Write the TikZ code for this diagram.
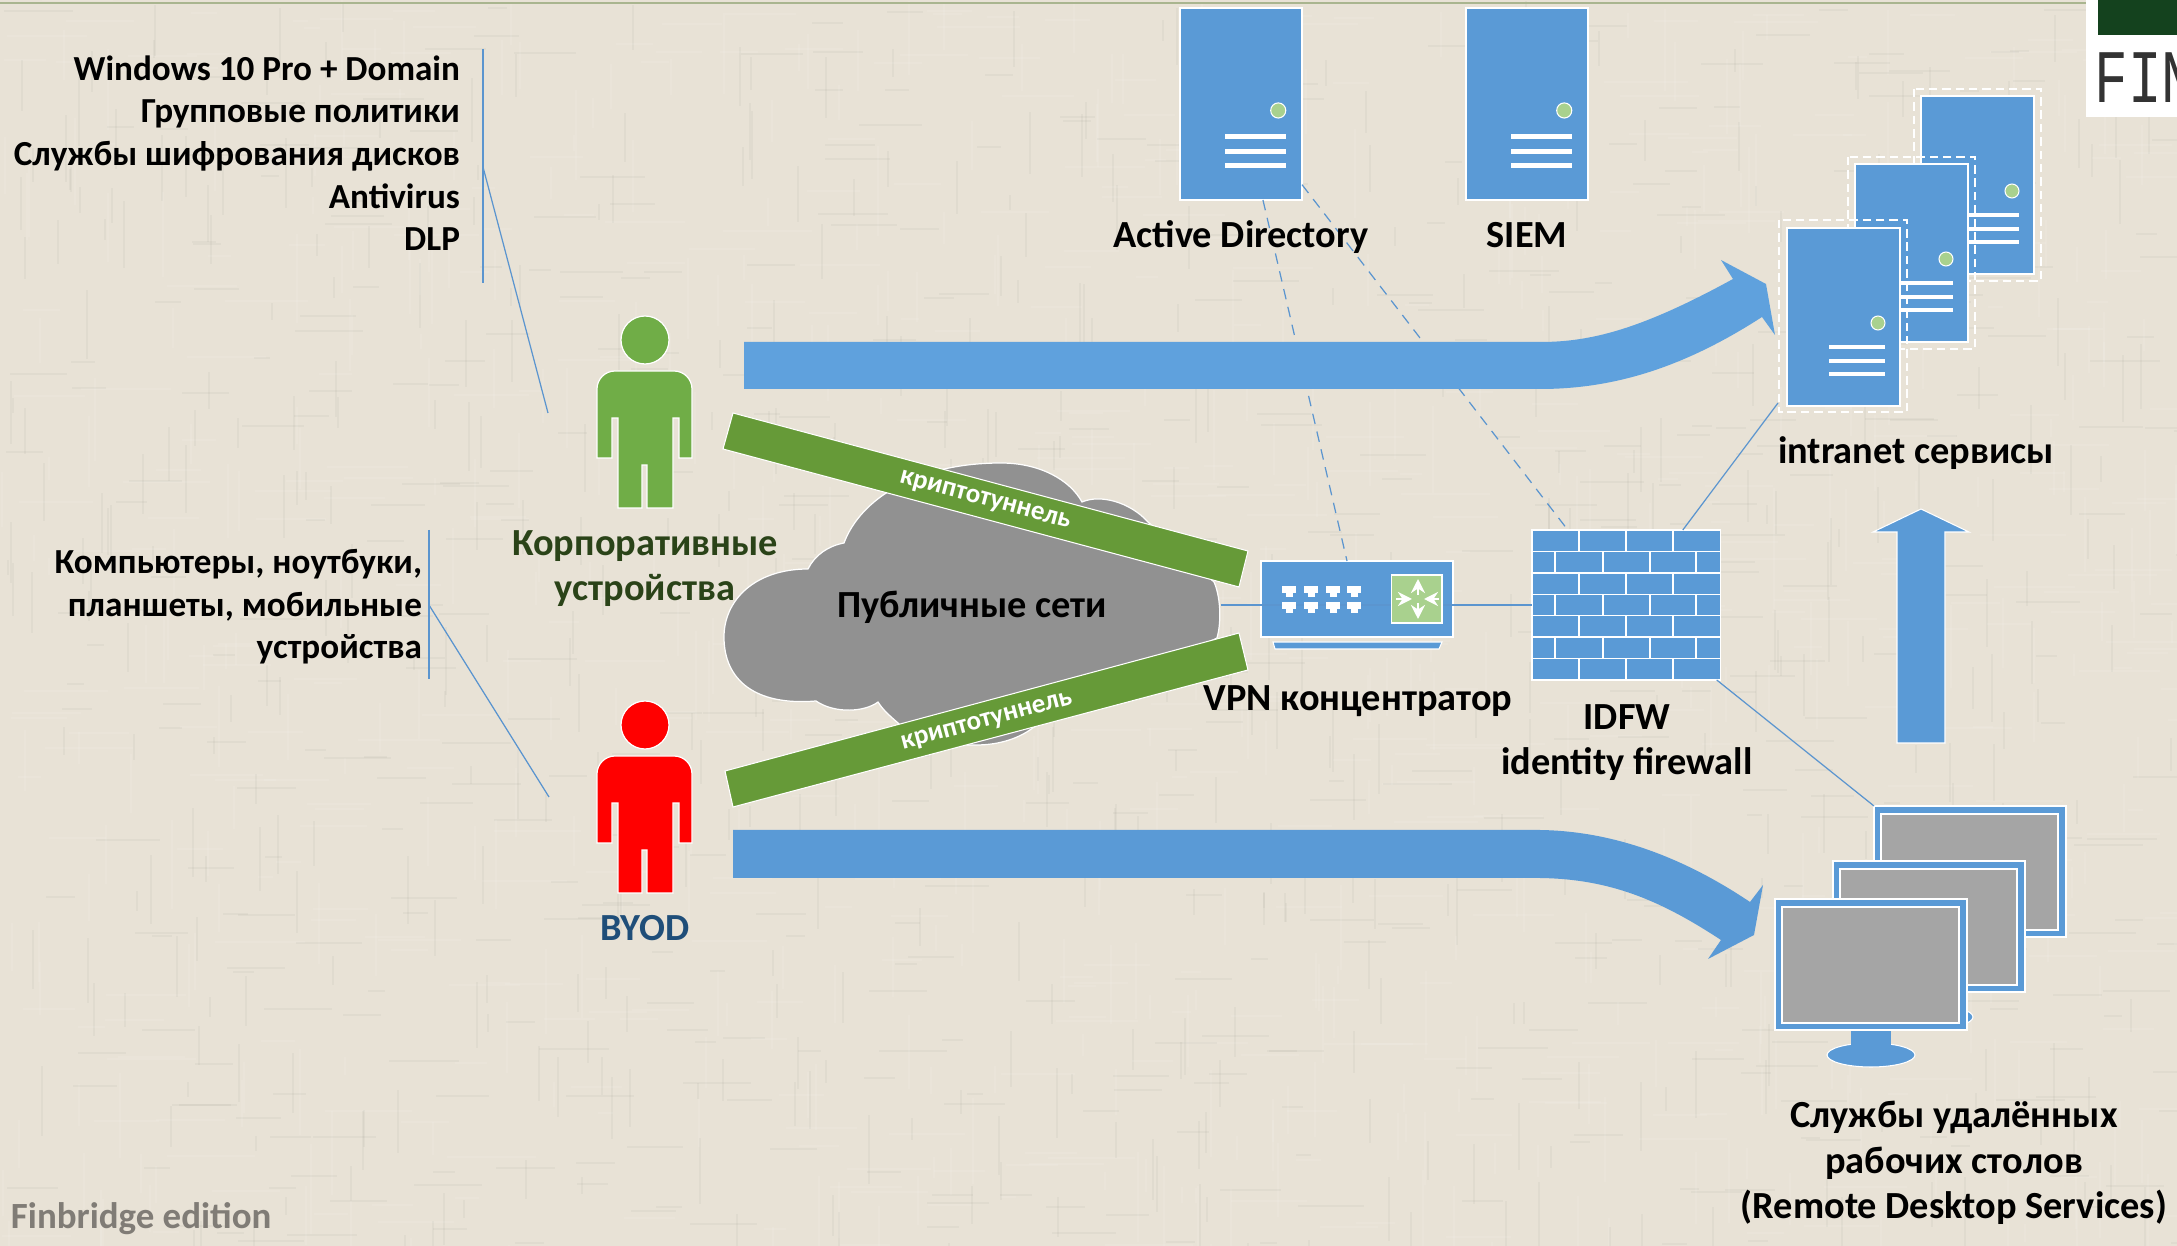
\documentclass[tikz,border=0pt]{standalone}
\usepackage{fontspec}
\setmainfont{Carlito}
\newfontfamily\logofont{Liberation Mono}
\usetikzlibrary{calc,arrows.meta}
\definecolor{bgc}{HTML}{E8E2D6}
\definecolor{netblue}{HTML}{5A9AD6}
\definecolor{flowblue}{HTML}{5FA1DD}
\definecolor{linkblue}{HTML}{5B95CF}
\definecolor{lampgreen}{HTML}{A9D18E}
\definecolor{tunnelgreen}{HTML}{669A38}
\definecolor{corpgreen}{HTML}{70AD47}
\definecolor{cloudgray}{HTML}{919191}
\definecolor{screengray}{HTML}{A5A5A5}
\definecolor{corptext}{HTML}{2A4318}
\definecolor{byodtext}{HTML}{1F4E79}
\definecolor{logogreen}{HTML}{14421E}
\definecolor{rulegreen}{HTML}{A9B58F}
\def\px{0.01cm}
\tikzset{
  x=0.01cm,y=-0.01cm,
  label text/.style={font=\fontsize{10.9}{13}\selectfont\bfseries,inner sep=0,outer sep=0,align=center,anchor=base,text=black},
  side text/.style={font=\fontsize{10}{12.15}\selectfont\bfseries,inner sep=0,outer sep=0,align=right,anchor=base east,text=black},
  link/.style={draw=linkblue,line width=0.35pt},
  dashlink/.style={link,dash pattern=on 3pt off 2.2pt},
  serverbox/.style={draw=white,line width=0.3pt,fill=netblue,inner sep=0,outer sep=0,minimum width=#1*\px},
  flow/.style={fill=flowblue,draw=none},
  tunnel/.style={fill=tunnelgreen,draw=white,line width=0.3pt},
  tunnel text/.style={font=\fontsize{7.7}{10}\selectfont\bfseries,text=white,inner sep=0},
  selframe/.style={draw=white,line width=0.35pt,dash pattern=on 2.4pt off 1.4pt},
  monframe/.style={draw=white,line width=0.35pt,fill=netblue,inner sep=0,outer sep=0,minimum width=192*\px,minimum height=131*\px},
  monscreen/.style={draw=white,line width=0.35pt,fill=screengray},
  whitebar/.style={fill=white,draw=none},
}
% server: #1 name, #2 left, #3 top, #4 width, #5 height
\newcommand{\srv}[5]{%
  \node[serverbox=#4,minimum height=#5*\px,anchor=north west] (#1) at (#2,#3) {};
  \pgfmathsetmacro\fx{#4/113}
  \pgfmathsetmacro\fy{#5/178}
  \pgfmathsetmacro\lampx{#2+91*\fx}\pgfmathsetmacro\lampy{#3+95*\fy}
  \pgfmathsetmacro\barl{#2+42*\fx}\pgfmathsetmacro\barr{#2+98*\fx}
  \fill[lampgreen,draw=white,line width=0.3pt] (\lampx,\lampy) circle[radius=7*\fx];
  \foreach \b in {119,133,146}{
    \pgfmathsetmacro\bt{#3+(\b-2)*\fy}\pgfmathsetmacro\bb{#3+(\b+2)*\fy}
    \fill[whitebar] (\barl,\bt) rectangle (\barr,\bb);
  }
}
% monitor: #1 name, #2 left, #3 top
\newcommand{\monitor}[3]{%
  \begin{scope}[shift={(#2,#3)}]
    \fill[netblue,draw=white,line width=0.3pt] (96,156) ellipse[x radius=44,y radius=12];
    \fill[netblue] (76,128) rectangle (116,148);
  \end{scope}
  \node[monframe,anchor=north west] (#1) at (#2,#3) {};
  \begin{scope}[shift={(#2,#3)}]
    \draw[monscreen] (7,8) rectangle (184,124);
  \end{scope}
}
% person: #1 name, #2 colour, #3 vertical offset
\newcommand{\person}[3]{%
  \begin{scope}[shift={(0,#3)}]
    \node[circle,fill=#2,draw=white,line width=0.35pt,minimum size=48*\px,inner sep=0,outer sep=0] (#1) at (645,340) {};
    \fill[#2,draw=white,line width=0.35pt] (597,458) [rounded corners=18*\px] -- (597,371) -- (692,371) [sharp corners] -- (692,458) -- (679,458) -- (679,418) -- (673,418) -- (673,508) -- (647,508) -- (647,465) -- (642,465) -- (642,508) -- (618,508) -- (618,418) -- (612,418) -- (612,458) -- cycle;
  \end{scope}
}
\begin{document}
\begin{tikzpicture}
\useasboundingbox (0,0) rectangle (2177,1246);
\clip (0,0) rectangle (2177,1246);
% backdrop
\fill[bgc] (0,0) rectangle (2177,1246);
\pgfmathsetseed{11}
\foreach \i in {1,...,500}{
  \pgfmathsetmacro\xa{random(0,2177)}\pgfmathsetmacro\ya{random(0,1246)}\pgfmathsetmacro\la{random(15,90)}
  \draw[white,opacity=.09,line width=0.5pt] (\xa,\ya) -- ++(\la,0);
  \pgfmathsetmacro\xb{random(0,2177)}\pgfmathsetmacro\yb{random(0,1246)}\pgfmathsetmacro\lb{random(15,90)}
  \draw[white,opacity=.09,line width=0.5pt] (\xb,\yb) -- ++(0,\lb);
  \pgfmathsetmacro\xc{random(0,2177)}\pgfmathsetmacro\yc{random(0,1246)}\pgfmathsetmacro\lc{random(15,70)}
  \draw[black!60!bgc,opacity=.05,line width=0.4pt] (\xc,\yc) -- ++(\lc,0);
  \pgfmathsetmacro\xd{random(0,2177)}\pgfmathsetmacro\yd{random(0,1246)}\pgfmathsetmacro\ld{random(15,70)}
  \draw[black!60!bgc,opacity=.05,line width=0.4pt] (\xd,\yd) -- ++(0,\ld);
}
\coordinate (ruleL) at (0,3);
\coordinate (ruleR) at (2086,3);
\draw[draw=rulegreen,line width=0.5pt] (ruleL) -- (ruleR);
% logo
\fill[white] (2086,0) rectangle (2177,117);
\fill[logogreen] (2098,0) rectangle (2177,35);
\node[anchor=base west,inner sep=0,xscale=.74,font=\logofont\fontsize{21.5}{22}\selectfont,text=black!80] (logo) at (2094,103) {FIN};

% nodes that carry links
\srv{ad}{1180}{8}{122}{192}
\srv{siem}{1466}{8}{122}{192}
\node[serverbox=192,fill=netblue,minimum height=76*\px,anchor=north west] (vpn) at (1261,561) {};
\node[serverbox=188.5,minimum height=150*\px,anchor=north west] (fw) at (1532,530) {};
\coordinate (cloudE) at (1221,605);
\coordinate (noteAmid) at (483,167);
\coordinate (noteBmid) at (429,605);
\coordinate (noteAtop) at (483,49);
\coordinate (noteAbot) at (483,283);
\coordinate (noteBtop) at (429,530);
\coordinate (noteBbot) at (429,679);
\coordinate (corpEnd) at (548,413);
\coordinate (byodEnd) at (549,797);
% links under everything
\draw[link] (noteAtop) -- (noteAbot);
\draw[link] (noteBtop) -- (noteBbot);
\draw[link] (noteAmid) -- (corpEnd);
\draw[link] (noteBmid) -- (byodEnd);
\draw[link] (cloudE) -- (fw.west);
\draw[dashlink] ($(ad.south west)!.68!(ad.south east)$) -- ($(vpn.north west)!.448!(vpn.north east)$);
\draw[dashlink] ($(ad.north east)!.92!(ad.south east)$) -- ($(fw.north west)!.19!(fw.north east)$);

% cloud
\path[fill=cloudgray,draw=white,line width=0.35pt] (724,637) .. controls (724,600) and (755,569) .. (808,569)
  .. controls (815,555) and (828,546) .. (844,543)
  .. controls (860,500) and (915,463) .. (1001,463)
  .. controls (1040,463) and (1070,480) .. (1082,502)
  .. controls (1100,494) and (1130,502) .. (1148,522)
  -- (1214,582)
  .. controls (1220,595) and (1222,620) .. (1217,638)
  -- (1034,727)
  .. controls (1020,738) and (1000,745) .. (976,745)
  .. controls (940,745) and (915,740) .. (898,723)
  .. controls (890,716) and (883,710) .. (878,702)
  .. controls (865,712) and (835,714) .. (816,701)
  .. controls (755,706) and (724,680) .. (724,637) -- cycle;
\node[label text] (cloudtxt) at (972,618) {Публичные сети};

% tunnels
\draw[tunnel] (733,413) -- (1248,551) -- (1239,587) -- (723,449) -- cycle;
\node[tunnel text,rotate=-15] (tun1) at (985,501) {криптотуннель};
\draw[tunnel] (725,771) -- (1239,633) -- (1248,670) -- (733,807) -- cycle;
\node[tunnel text,rotate=15] (tun2) at (987,722) {криптотуннель};

% big arrows
\fill[flow] (744,342) -- (1540,342) .. controls (1590,342) and (1640,330) .. (1733,279) -- (1721,260) -- (1766,284) -- (1775,335) -- (1762,317) .. controls (1680,370) and (1610,389) .. (1540,389) -- (744,389) -- cycle;
\fill[flow,fill=netblue] (733,830) -- (1540,830) .. controls (1610,831) and (1680,855) .. (1750,902) -- (1763,885) -- (1754,935) -- (1708,959) -- (1721,940) .. controls (1660,900) and (1610,879) .. (1540,878) -- (733,878) -- cycle;
\path[fill=netblue,draw=white,line width=0.3pt] (1897,743) -- (1897,532) -- (1873,532) -- (1921,509) -- (1969,532) -- (1945,532) -- (1945,743) -- cycle;

% VPN details
\path[fill=netblue,draw=white,line width=0.3pt] (1273,642) -- (1442,642) -- (1439,649) -- (1275,649) -- cycle;
\draw[draw=white,line width=0.3pt,fill=lampgreen] (1391.5,575) rectangle (1442,623);
\draw[-{Stealth[length=4pt,width=4pt]},white,line width=0.8pt] (1418,595) -- (1418,579);
\draw[-{Stealth[length=4pt,width=4pt]},white,line width=0.8pt] (1418,603) -- (1418,619);
\draw[-{Stealth[length=4pt,width=4pt]},white,line width=0.8pt] (1396,599) -- (1412,599);
\draw[-{Stealth[length=4pt,width=4pt]},white,line width=0.8pt] (1439,599) -- (1424,599);
\foreach \cx in {1289,1311,1333,1354}{
  \foreach \cy in {586,602}{
    \fill[whitebar] (\cx-7,\cy) rectangle (\cx+7,\cy+7);
    \fill[whitebar] (\cx-3.5,\cy+7) rectangle (\cx+3.5,\cy+11);
  }
}

% firewall bricks
\foreach \k in {1,...,6}{
  \draw[white,line width=0.4pt] (1532,530+21.43*\k) -- (1720.5,530+21.43*\k);
}
\foreach \r in {0,2,4,6}{
  \foreach \vx in {1579,1626,1673}{
    \draw[white,line width=0.4pt] (\vx,530+21.43*\r) -- (\vx,530+21.43*\r+21.43);
  }
}
\foreach \r in {1,3,5}{
  \foreach \vx in {1555,1603,1650,1696}{
    \draw[white,line width=0.4pt] (\vx,530+21.43*\r) -- (\vx,530+21.43*\r+21.43);
  }
}

% intranet servers
\srv{srvC}{1921}{96}{113}{178}
\draw[selframe] (1914,89) rectangle (2041,281);
\srv{srvB}{1855}{164}{113}{178}
\draw[selframe] (1848,157) rectangle (1975,349);
\srv{srvA}{1787}{228}{113}{178}
\draw[selframe] (1779,220) rectangle (1907,412);
\draw[link] ($(fw.north west)!.80!(fw.north east)$) -- ($(srvA.south west)+(-9,-3)$);

% monitors
\monitor{monC}{1874}{806}
\monitor{monB}{1833}{861}
\monitor{monA}{1775}{899}
\draw[link] ($(fw.south west)!.98!(fw.south east)$) -- (monC.north west);

% people
\person{corp}{corpgreen}{0}
\person{byod}{red}{385}

% texts
\node[side text] (noteA) at (460,251) {Windows 10 Pro + Domain\\Групповые политики\\Службы шифрования дисков\\Antivirus\\DLP};
\node[side text] (noteB) at (422,659) {Компьютеры, ноутбуки,\\планшеты, мобильные\\устройства};
\node[label text,text=corptext] (corplbl) at (645,601) {Корпоративные\\устройства};
\node[label text,text=byodtext] (byodlbl) at (645,941) {BYOD};
\node[label text] (adlbl) at (1241,248) {Active Directory};
\node[label text] (siemlbl) at (1527,248) {SIEM};
\node[label text] (vpnlbl) at (1358,711) {VPN концентратор};
\node[label text] (fwlbl) at (1627,775) {IDFW\\identity firewall};
\node[label text] (intralbl) at (1916,464) {intranet сервисы};
\node[label text] (rdlbl) at (1954,1219) {Службы удалённых\\рабочих столов\\(Remote Desktop Services)};
\node[label text,anchor=base west,text=black!45!bgc,font=\fontsize{10.5}{13}\selectfont\bfseries] (edition) at (11,1229) {Finbridge edition};
\end{tikzpicture}
\end{document}
